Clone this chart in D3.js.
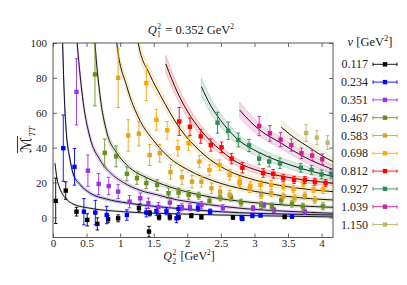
<!DOCTYPE html>
<html><head><meta charset="utf-8">
<script src="https://cdn.jsdelivr.net/npm/d3@7"></script>
<style>
html,body{margin:0;padding:0;background:#fff;}
text{font-family:"Liberation Serif","Times New Roman",serif;fill:#222;white-space:pre;}
</style></head>
<body><svg id="c" width="407" height="285"></svg>
<script>
// ---------- data ----------
const nuLabels = ["0.117","0.234","0.351","0.467","0.583","0.698","0.812","0.927","1.039","1.150"];
const xTicks = [0,0.5,1,1.5,2,2.5,3,3.5,4];
const yTicks = [0,20,40,60,80,100];
const title = "0.352";

// lattice points: [Q2^2, M_TT, error]
const pts117 = [[0.04,9.5,13],[0.19,15.4,5],[0.35,3.3,2.5],[0.51,-1.4,3.5],[0.66,-3.7,3.5],[0.82,-1.0,2],[0.97,-0.5,2],[1.28,5.3,2],[1.43,-8.1,3],[1.44,2.4,1.5],[1.58,0.1,1.5],[1.74,0.1,1.5],[1.87,0.1,1.2],[2.06,1.0,1.2],[2.21,0.1,1],[2.68,0,1],[2.82,-0.8,1],[3.45,0.3,1]];
const pts234 = [[0.153,39.7,19],[0.32,29,10.5],[0.46,3.3,7.5],[0.63,2.8,7],[0.8,1.4,5],[1.1,1.4,3],[1.39,2.8,2.5],[1.54,3.7,2.5],[1.69,3.5,2],[1.84,-0.5,2.5],[1.87,4.9,2],[2.16,5.6,2],[2.34,3.3,1.5],[2.81,-0.3,1.5],[2.97,1.0,1.2],[3.09,1.2,1],[3.56,0.5,1]];
const pts351 = [[0.35,72,19],[0.52,26.8,9],[0.68,19.2,6],[0.83,18,5],[0.97,14.8,4],[1.14,9,3.5],[1.30,11,3],[1.42,8.1,3],[1.57,6,2.5],[1.74,8.5,3],[1.92,5.8,2],[2.04,5.8,2],[2.21,7.2,2],[2.53,5.3,2],[2.98,5.3,1.5],[3.14,7,1.5],[3.29,4.3,1.5],[3.75,3.3,1.5]];
const pts467 = [[0.625,82,18],[0.77,37,8],[0.94,35,6],[1.10,25,4],[1.25,22.5,3.5],[1.39,19.6,3],[1.55,18.6,3],[1.72,13.9,3],[1.87,14.2,2.5],[2.02,12.9,2.5],[2.17,12.5,2],[2.33,9.5,2],[2.49,11.5,2],[2.65,11.5,2],[2.80,8.5,2],[3.10,7.2,2],[3.26,6.2,2],[3.40,9.8,2],[3.56,7.9,2],[3.72,6.2,2],[4.02,6.4,2]];
const pts583 = [[0.97,80,17],[1.12,47,9],[1.28,48,7],[1.44,35.8,6],[1.59,36.8,5],[1.75,26,4],[1.92,23,4],[2.07,20.5,3.5],[2.21,20.5,3],[2.36,16.7,3],[2.49,14.8,3],[2.63,13,2.5],[2.78,19.6,2.5],[2.93,16.7,2.5],[3.10,12.9,2],[3.25,13.9,2],[3.43,12,2],[3.60,11,2],[3.75,12.5,2],[3.90,10,2]];
const pts698 = [[1.39,77,10],[1.54,56,6],[1.70,50,5],[1.86,39.7,4.5],[2.02,42.5,4],[2.18,32,3.5],[2.33,27.2,3],[2.48,30,3],[2.63,24.4,3],[2.78,20.5,3],[2.94,18,2.5],[3.09,18.6,2.5],[3.25,18.6,2.5],[3.43,17.7,2],[3.58,16.2,2],[3.73,19.5,2],[3.88,16.2,2],[4.02,15.8,2]];
const pts812 = [[1.88,55,8],[2.04,52,5],[2.20,46.5,4],[2.35,41.5,3.5],[2.51,40.2,3],[2.66,33.7,3],[2.82,28.5,3],[3.13,25.5,2.5],[3.28,25,2.5],[3.43,22.5,2],[3.59,21.5,2],[3.75,21.5,2],[3.90,20.5,2],[4.06,19.8,2]];
const pts927 = [[2.45,54.3,6],[2.61,49.7,5],[2.76,44.4,4],[2.92,41.3,3.5],[3.07,33.7,3.5],[3.22,32,3],[3.38,31,3],[3.69,28.5,2.5],[3.85,27.2,2.5],[4.00,24.7,2.5],[4.14,25,2.5]];
const pts1039 = [[3.07,52.4,5.5],[3.23,48.2,4.5],[3.39,44.6,4],[3.55,41.5,3.5],[3.70,36.8,3],[3.86,35.5,3],[4.01,33.4,3]];
const pts1150 = [[3.77,48.4,4.8],[3.93,45.8,4],[4.09,42.9,4]];

// fitted curves: [Q2^2, M_TT, band half-width]
const fit117 = [[0.03,31,1.5],[0.06,22,1.2],[0.094,17.5,1],[0.14,13.5,0.8],[0.2,10.5,0.7],[0.3,7.7,0.6],[0.55,5.3,0.5],[1.05,3.3,0.5],[1.9,2.0,0.5],[3,1.0,0.5],[4.17,0.3,0.5]];
const fit234 = [[0.135,115,4.5],[0.144,100,4],[0.17,68,3],[0.2,48,2.2],[0.25,34,1.6],[0.3,25,1.3],[0.4,19,1],[0.55,14,0.9],[0.8,10.5,0.8],[1.1,8.3,0.7],[1.56,6.2,0.6],[2.0,4.6,0.6],[2.78,2.7,0.5],[3.5,1.9,0.5],[4.17,1.4,0.5]];
const fit351 = [[0.33,115,5],[0.36,100,4.5],[0.45,66,3],[0.55,46,2.2],[0.7,33,1.7],[0.9,24,1.3],[1.05,20,1.2],[1.3,15.5,1],[1.56,12.9,0.9],[1.74,11,0.9],[2.2,8,0.8],[2.78,5.3,0.7],[3.5,3.5,0.6],[4.17,2.4,0.6]];
const fit467 = [[0.6,115,5],[0.625,100,4.5],[0.7,70,3.5],[0.8,49,2.6],[0.95,37,2],[1.1,30,1.7],[1.44,22,1.4],[1.74,17.5,1.2],[2.2,12.8,1],[2.93,8.7,0.9],[3.5,7,0.8],[4.17,5.8,0.8]];
const fit583 = [[0.92,115,5],[0.95,100,4.5],[1.1,75,3.5],[1.29,56,2.8],[1.5,44,2.3],[1.74,34,2],[2.0,27.5,1.7],[2.5,19.5,1.4],[3.0,15,1.2],[3.5,12,1.1],[4.17,10,1]];
const fit698 = [[1.23,115,5],[1.27,100,4.5],[1.44,82,4],[1.6,70,3.5],[1.89,51,2.8],[2.19,38,2.3],[2.6,27,1.9],[3.0,21.5,1.6],[3.5,17.6,1.4],[4.17,14.8,1.3]];
const fit812 = [[1.68,88,5],[1.85,72,4],[2.0,61,3.5],[2.2,50,3],[2.34,44,2.7],[2.5,38.5,2.4],[2.66,33.5,2.2],[3.0,27.5,1.9],[3.5,23,1.7],[4.17,19.6,1.5]];
const fit927 = [[2.21,75,5],[2.35,64,4.2],[2.5,55.5,3.7],[2.73,45.5,3.2],[3.08,37,2.7],[3.5,30.5,2.3],[4.17,23.4,2]];
const fit1039 = [[2.78,61.6,4.5],[2.95,54.5,4],[3.1,49.5,3.6],[3.38,43,3.2],[3.7,35.5,2.8],[4.17,27.5,2.4]];
const fit1150 = [[3.40,51.7,4],[3.6,45.5,3.6],[3.8,40.5,3.3],[4.0,35.5,3],[4.17,32,2.8]];

const points = [pts117,pts234,pts351,pts467,pts583,pts698,pts812,pts927,pts1039,pts1150];
const fits = [fit117,fit234,fit351,fit467,fit583,fit698,fit812,fit927,fit1039,fit1150];

// ---------- style ----------
const colors = ["#000000","#0000ff","#9a32e6","#6b8e23","#daa520","#ffa500","#ff0000","#2e8b57","#d02090","#bdb76b"];
const bandColors = ["#808080","#0000ff","#9a32e6","#6b8e23","#daa520","#ffa500","#ff0000","#2e8b57","#d02090","#bdb76b"];
const L=53, R=333, T=43, B=237.5;

const svg = d3.select("#c");
const x = d3.scaleLinear().domain([0,4.17]).range([L,R]);
const y = d3.scaleLinear().domain([-11.5,100]).range([B,T]);

svg.append("clipPath").attr("id","clip").append("rect")
  .attr("x",L).attr("y",T).attr("width",R-L).attr("height",B-T);

const plot = svg.append("g").attr("clip-path","url(#clip)");

const area = d3.area().curve(d3.curveMonotoneX)
  .x(d=>x(d[0])).y0(d=>y(d[1]-d[2])).y1(d=>y(d[1]+d[2]));
const line = d3.line().curve(d3.curveMonotoneX).x(d=>x(d[0])).y(d=>y(d[1]));

fits.forEach((f,i)=>{
  plot.append("path").attr("d",area(f)).attr("fill",bandColors[i]).attr("fill-opacity",0.17)
    .attr("stroke",bandColors[i]).attr("stroke-opacity",0.35).attr("stroke-width",0.6);
});
fits.forEach((f,i)=>{
  plot.append("path").attr("d",line(f)).attr("fill","none").attr("stroke","#000").attr("stroke-width",0.9);
});

const ms=4.4, cap=1.8;
points.forEach((p,i)=>{
  const g = plot.append("g").attr("stroke",colors[i]).attr("fill",colors[i]).attr("stroke-width",0.9);
  p.forEach(d=>{
    const cx=x(d[0]);
    g.append("line").attr("x1",cx).attr("x2",cx).attr("y1",y(d[1]-d[2])).attr("y2",y(d[1]+d[2]));
    g.append("line").attr("x1",cx-cap).attr("x2",cx+cap).attr("y1",y(d[1]-d[2])).attr("y2",y(d[1]-d[2]));
    g.append("line").attr("x1",cx-cap).attr("x2",cx+cap).attr("y1",y(d[1]+d[2])).attr("y2",y(d[1]+d[2]));
    g.append("rect").attr("x",cx-ms/2).attr("y",y(d[1])-ms/2).attr("width",ms).attr("height",ms).attr("stroke","none");
  });
});

// axes
const fmt = d3.format("~g");
const axB = svg.append("g").attr("transform",`translate(0,${B})`)
  .call(d3.axisBottom(x).tickValues(xTicks).tickFormat(fmt).tickSizeInner(-4).tickSizeOuter(0).tickPadding(1.5));
const axT = svg.append("g").attr("transform",`translate(0,${T})`)
  .call(d3.axisTop(x).tickValues(xTicks).tickFormat("").tickSizeInner(-4).tickSizeOuter(0));
const axL = svg.append("g").attr("transform",`translate(${L},0)`)
  .call(d3.axisLeft(y).tickValues(yTicks).tickSizeInner(-4).tickSizeOuter(0).tickPadding(6));
const axR = svg.append("g").attr("transform",`translate(${R},0)`)
  .call(d3.axisRight(y).tickValues(yTicks).tickFormat("").tickSizeInner(-4).tickSizeOuter(0));
[axB,axT,axL,axR].forEach(a=>{
  a.select(".domain").remove();
  a.selectAll(".tick line").attr("stroke","#444").attr("stroke-width",0.8);
  a.selectAll("text").style("font-size","11px").attr("fill","#222")
    .style("font-family",'"Liberation Serif",serif');
});
axL.selectAll("text").attr("dy","0.35em");
svg.append("rect").attr("x",L).attr("y",T).attr("width",R-L).attr("height",B-T)
  .attr("fill","none").attr("stroke","#444").attr("stroke-width",0.9);

// Q label helper
function qLabel(g, idx, rest, size, closeBracket){
  const q = g.append("text").attr("x",0).attr("y",0).style("font-size",size+"px").style("font-style","italic").text("Q");
  const qw = q.node().getComputedTextLength();
  const s = size*0.6;
  g.append("text").attr("x",qw+0.6).attr("y",-size*0.4).style("font-size",s+"px").text("2");
  g.append("text").attr("x",qw+0.4).attr("y",size*0.3).style("font-size",s+"px").text(idx);
  const t = g.append("text").attr("x",qw+s*0.5+1.8).attr("y",0).style("font-size",size+"px");
  t.append("tspan").text(rest);
  t.append("tspan").attr("dy",-size*0.38).style("font-size",s+"px").text("2");
  if(closeBracket){ t.append("tspan").attr("dy",size*0.38).text("]"); }
}
function center(g,cx,base){
  const b = g.node().getBBox();
  g.attr("transform",`translate(${cx-b.x-b.width/2},${base})`);
}
const gt = svg.append("g"); qLabel(gt,"1"," = "+title+" GeV",12.5,false); center(gt,191,33.5);
const gx = svg.append("g"); qLabel(gx,"2"," [GeV",12,true); center(gx,189,260);

// y label
const gy = svg.append("g").attr("transform","translate(31,137) rotate(-90)");
const mT = gy.append("text").attr("x",0).attr("y",0).attr("text-anchor","end")
  .style("font-size","15px").style("font-family",'"DejaVu Serif","DejaVu Sans",serif').style("font-style","italic").text("ℳ");
gy.append("text").attr("x",0.5).attr("y",3.5).style("font-size","9px").style("font-style","italic").text("TT");
const mb = mT.node().getBBox();
gy.append("line").attr("x1",mb.x).attr("x2",mb.x+mb.width+1).attr("y1",mb.y+0.5).attr("y2",mb.y+0.5)
  .attr("stroke","#222").attr("stroke-width",0.9);

// legend
const lg = svg.append("g");
const lt = lg.append("text").attr("y",0).style("font-size","12.5px");
lt.append("tspan").style("font-style","italic").text("ν");
lt.append("tspan").text(" [GeV");
lt.append("tspan").attr("dy",-4.6).style("font-size","8.6px").text("2");
lt.append("tspan").attr("dy",4.6).text("]");
center(lg,370,46);

const ly = d3.scalePoint().domain(nuLabels).range([64.3,224.5]);
nuLabels.forEach((lab,i)=>{
  const cy = ly(lab);
  svg.append("text").attr("x",368).attr("y",cy+4).attr("text-anchor","end").style("font-size","12px").text(lab);
  const g = svg.append("g").attr("stroke",colors[i]).attr("fill",colors[i]).attr("stroke-width",0.9);
  g.append("line").attr("x1",373).attr("x2",397).attr("y1",cy).attr("y2",cy);
  g.append("line").attr("x1",373).attr("x2",373).attr("y1",cy-cap).attr("y2",cy+cap);
  g.append("line").attr("x1",397).attr("x2",397).attr("y1",cy-cap).attr("y2",cy+cap);
  g.append("rect").attr("x",385-ms/2).attr("y",cy-ms/2).attr("width",ms).attr("height",ms).attr("stroke","none");
});
</script></body></html>
